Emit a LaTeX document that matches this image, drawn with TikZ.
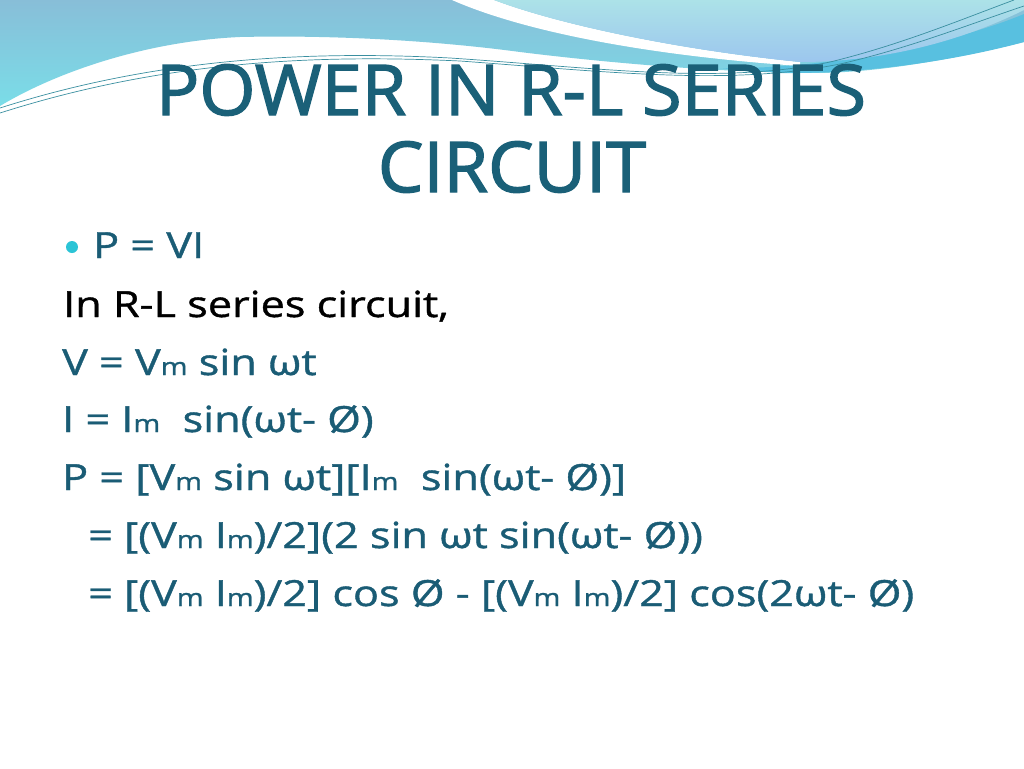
\documentclass[tikz,border=0pt]{standalone}
\usepackage{fontspec}
\setmainfont{Open Sans}
\newfontfamily\titlefont[FakeBold=2,FakeStretch=1.03]{Open Sans}
\newfontfamily\bodyfont[FakeBold=1.1,FakeStretch=1.2]{Open Sans}
\definecolor{titlec}{HTML}{1A6078}
\definecolor{bodyc}{HTML}{1A5C75}
\definecolor{bulletc}{HTML}{2BC4D6}
\definecolor{bandtop}{HTML}{88BED8}
\definecolor{bandbot}{HTML}{7ADDE8}
\definecolor{lbtop}{HTML}{ACE2E8}
\definecolor{lbbot}{HTML}{9CC6EE}
\definecolor{stripec}{HTML}{58C0E0}
\definecolor{linec}{HTML}{3A8FA0}
\newcommand{\smallm}{{\fontsize{24}{24}\selectfont m}}
\tikzset{
  titletext/.style={anchor=base, text=titlec, font=\titlefont\fontsize{70}{70}\selectfont, inner sep=0pt},
  bodytext/.style={anchor=base west, text=bodyc, font=\bodyfont\fontsize{36}{36}\selectfont, inner sep=0pt},
  thinline/.style={draw=linec, line width=0.7pt}
}
\begin{document}
\begin{tikzpicture}[x=1pt,y=-1pt]
\useasboundingbox (0,0) rectangle (1024,768);
\fill[white] (0,0) rectangle (1024,768);
% blue gradient band
\shade[top color=bandtop, bottom color=bandbot]
  (0,0) -- (1024,0) -- (1024,42)
  .. controls (950,60) and (880,72) .. (820,73)
  .. controls (720,73) and (600,62) .. (520,52)
  .. controls (430,40) and (330,35) .. (240,37)
  .. controls (150,41) and (60,70) .. (0,106) -- cycle;
% darker cyan stripe on the right
\fill[stripec] (720,68) .. controls (820,70) and (950,45) .. (1024,14)
  -- (1024,42) .. controls (950,62) and (860,74) .. (780,73) -- cycle;
% white stripe
\fill[white] (452,0) .. controls (520,30) and (640,55) .. (800,66)
  -- (800,62) .. controls (680,50) and (560,25) .. (494,0) -- cycle;
% light blue region
\shade[top color=lbtop, bottom color=lbbot]
  (494,0) .. controls (560,25) and (680,50) .. (800,62)
  .. controls (900,62) and (980,32) .. (1024,10) -- (1024,0) -- cycle;
% thin lines
\draw[thinline] (0,108) .. controls (150,60) and (300,50) .. (450,58)
  .. controls (600,68) and (720,85) .. (830,62)
  .. controls (900,45) and (960,20) .. (1014,0);
\draw[thinline] (0,113) .. controls (160,62) and (310,54) .. (460,61)
  .. controls (610,72) and (730,86) .. (840,64)
  .. controls (910,48) and (970,24) .. (1024,6);
% title
\node[titletext] (t1) at (511,115) {POWER IN R-L SERIES};
\node[titletext] (t2) at (512,192) {CIRCUIT};
% body
\fill[bulletc] (72,247) circle (6);
\node[bodytext] (l1) at (93,258) {P = VI};
\node[bodytext, text=black] (l2) at (63,317) {In R-L series circuit,};
\node[bodytext] (l3) at (62,375) {V = V\smallm\ sin ωt};
\node[bodytext] (l4) at (62,432) {I = I\smallm\ \ sin(ωt- Ø)};
\node[bodytext] (l5) at (62,490) {P = [V\smallm\ sin ωt][I\smallm\ \ sin(ωt- Ø)]};
\node[bodytext] (l6) at (88,548) {= [(V\smallm\ I\smallm)/2](2 sin ωt sin(ωt- Ø))};
\node[bodytext] (l7) at (88,606) {= [(V\smallm\ I\smallm)/2] cos Ø - [(V\smallm\ I\smallm)/2] cos(2ωt- Ø)};
\end{tikzpicture}
\end{document}
